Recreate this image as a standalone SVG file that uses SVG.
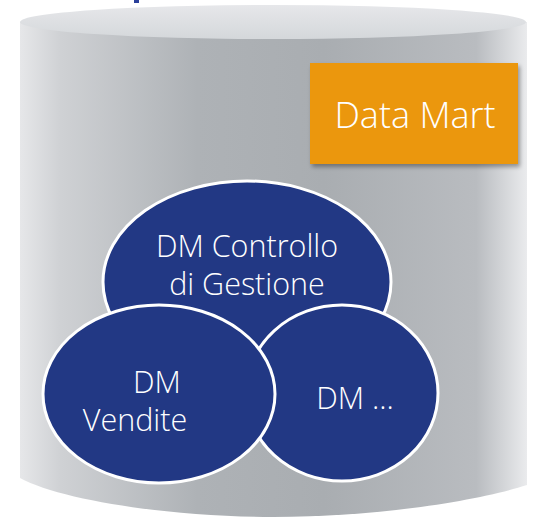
<svg xmlns="http://www.w3.org/2000/svg" width="537" height="519" viewBox="0 0 537 519">
<defs>
<linearGradient id="body" x1="20" y1="0" x2="527" y2="0" gradientUnits="userSpaceOnUse">
<stop offset="0" stop-color="#e6e7e9"/>
<stop offset="0.08" stop-color="#cfd1d4"/>
<stop offset="0.35" stop-color="#aeb2b6"/>
<stop offset="0.6" stop-color="#a9adb1"/>
<stop offset="0.9" stop-color="#b9bcc0"/>
<stop offset="1" stop-color="#eaebed"/>
</linearGradient>
<linearGradient id="top" x1="0" y1="5" x2="0" y2="38" gradientUnits="userSpaceOnUse">
<stop offset="0" stop-color="#e6e7ea"/>
<stop offset="1" stop-color="#d5d8db"/>
</linearGradient>
<filter id="sh" x="-10%" y="-10%" width="130%" height="130%">
<feGaussianBlur in="SourceAlpha" stdDeviation="2"/>
<feOffset dx="2" dy="3"/>
<feComponentTransfer><feFuncA type="linear" slope="0.35"/></feComponentTransfer>
<feMerge><feMergeNode/><feMergeNode in="SourceGraphic"/></feMerge>
</filter>
</defs>
<style>
.dm{fill:#223884;stroke:#ffffff;stroke-width:3}
.t{font-family:"Open Sans","Noto Sans","Liberation Sans",sans-serif;font-weight:300;fill:#ffffff;text-anchor:middle}
.e{font-size:30.5px}
</style>
<rect x="134" y="0" width="5" height="3" fill="#2a3f9a"/>
<g id="cylinder">
<path d="M20,22 L20,478 C60,500 170,517 273,517 C380,517 480,500 527,485 L527,22 Z" fill="url(#body)"/>
<ellipse cx="273" cy="22" rx="253" ry="17" fill="url(#top)"/>
</g>
<g id="datamart">
<rect x="310" y="63" width="208" height="101" fill="#eb9710" filter="url(#sh)"/>
<text class="t" x="415" y="128" font-size="36">Data Mart</text>
</g>
<g id="dm-controllo">
<ellipse class="dm" cx="247" cy="282" rx="144" ry="101"/>
<text class="t e" x="247" y="257">DM Controllo</text>
<text class="t e" x="247" y="295">di Gestione</text>
</g>
<g id="dm-altro">
<ellipse class="dm" cx="342" cy="393" rx="96" ry="88"/>
<text class="t e" x="355" y="409">DM ...</text>
</g>
<g id="dm-vendite">
<ellipse class="dm" cx="159" cy="394" rx="116" ry="89"/>
<text class="t e" x="157" y="393">DM</text>
<text class="t e" x="135" y="431">Vendite</text>
</g>
<g id="connectors"/>
</svg>
